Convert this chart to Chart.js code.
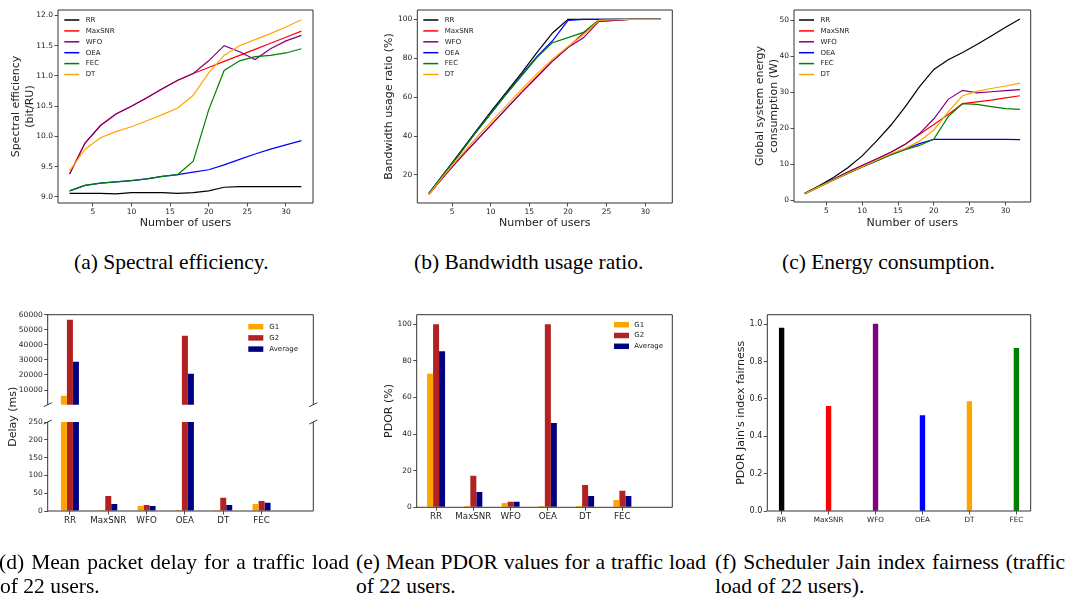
<!DOCTYPE html>
<html>
<head>
<meta charset="utf-8">
<script src="https://cdn.jsdelivr.net/npm/chart.js@4.4.1/dist/chart.umd.min.js"></script>
<style>
    body { margin: 0; background: #fff; width: 1066px; height: 600px; overflow: hidden; position: relative; }
    canvas { position: absolute; }
    .cap { position: absolute; font-family: 'Liberation Serif', 'Times New Roman', serif; font-size: 21.5px; line-height: 24px; color: #000; white-space: nowrap; }
    .just { width: 350px; text-align: justify; text-align-last: justify; }
</style>
</head>
<body>
<canvas id="seChart" width="330" height="240" style="left:0;top:0"></canvas>
<canvas id="bwChart" width="330" height="240" style="left:360px;top:0"></canvas>
<canvas id="enChart" width="340" height="240" style="left:710px;top:0"></canvas>
<canvas id="delayHighChart" width="330" height="160" style="left:0;top:300px"></canvas>
<canvas id="delayLowChart" width="330" height="128" style="left:0;top:412px"></canvas>
<canvas id="pdorChart" width="330" height="240" style="left:360px;top:300px"></canvas>
<canvas id="jainChart" width="340" height="240" style="left:710px;top:300px"></canvas>

<div class="cap" style="left:74px;top:250px">(a) Spectral efficiency.</div>
<div class="cap" style="left:414px;top:250px">(b) Bandwidth usage ratio.</div>
<div class="cap" style="left:782px;top:250px">(c) Energy consumption.</div>
<div class="cap just" style="left:-1px;top:550px">(d) Mean packet delay for a traffic load</div>
<div class="cap" style="left:0;top:574px">of 22 users.</div>
<div class="cap just" style="left:356px;top:550px">(e) Mean PDOR values for a traffic load</div>
<div class="cap" style="left:356px;top:574px">of 22 users.</div>
<div class="cap just" style="left:715px;top:550px">(f) Scheduler Jain index fairness (traffic</div>
<div class="cap" style="left:715px;top:574px">load of 22 users).</div>

<script>
// Line charts data
const users = [2, 4, 6, 8, 10, 12, 14, 16, 18, 20, 22, 24, 26, 28, 30, 32];
const userTicks = [5, 10, 15, 20, 25, 30];
const lineNames = ['RR', 'MaxSNR', 'WFO', 'OEA', 'FEC', 'DT'];
const lineColors = ['#000000', '#ff0000', '#800080', '#0000ff', '#008000', '#ffa500'];

// (a) spectral efficiency (bit/RU)
const seRR = [9.06, 9.06, 9.06, 9.05, 9.07, 9.07, 9.07, 9.06, 9.07, 9.10, 9.16, 9.17, 9.17, 9.17, 9.17, 9.17];
const seMaxSNR = [9.38, 9.89, 10.18, 10.37, 10.50, 10.64, 10.79, 10.93, 11.04, 11.14, 11.24, 11.34, 11.44, 11.54, 11.64, 11.74];
const seWFO = [9.38, 9.89, 10.18, 10.37, 10.50, 10.64, 10.79, 10.93, 11.04, 11.25, 11.50, 11.40, 11.27, 11.45, 11.58, 11.67];
const seOEA = [9.10, 9.19, 9.23, 9.25, 9.27, 9.30, 9.34, 9.37, 9.41, 9.45, 9.53, 9.62, 9.71, 9.79, 9.86, 9.93];
const seFEC = [9.10, 9.19, 9.23, 9.25, 9.27, 9.30, 9.34, 9.37, 9.59, 10.44, 11.09, 11.25, 11.32, 11.34, 11.38, 11.45];
const seDT = [9.43, 9.79, 9.98, 10.08, 10.16, 10.26, 10.36, 10.47, 10.68, 11.05, 11.34, 11.50, 11.60, 11.70, 11.81, 11.93];
const seTicks = [9.0, 9.5, 10.0, 10.5, 11.0, 11.5, 12.0];

// (b) bandwidth usage ratio (%)
const bwRR = [10.5, 21, 31.5, 42, 52.5, 62.5, 72.5, 83, 93, 100, 100, 100, 100, 100, 100, 100];
const bwMaxSNR = [10, 19.5, 28.5, 37, 45.5, 54, 62.5, 70.5, 78.5, 85.5, 93, 99, 99.5, 100, 100, 100];
const bwWFO = [10, 19.5, 28.5, 37, 45.5, 54, 62.5, 70.5, 78.5, 85.5, 90.5, 99, 99.5, 100, 100, 100];
const bwOEA = [10.5, 21, 31, 41.5, 51.5, 61.5, 71.5, 81, 89, 99.5, 100, 100, 100, 100, 100, 100];
const bwFEC = [10.5, 21, 31, 41.5, 51.5, 61.5, 71, 80.5, 88, 90.6, 93.3, 99.7, 100, 100, 100, 100];
const bwDT = [10, 20, 29.5, 38.5, 47, 55.5, 64, 72, 79.5, 86, 92, 99.5, 99.8, 100, 100, 100];
const bwTicks = [20, 40, 60, 80, 100];

// (c) global system energy consumption (W)
const enRR = [1.9, 4.0, 6.3, 9.0, 12.3, 16.4, 20.8, 25.9, 31.5, 36.3, 39.0, 41.0, 43.2, 45.6, 48.0, 50.3];
const enMaxSNR = [1.8, 3.8, 5.8, 7.8, 9.6, 11.4, 13.3, 15.5, 18.3, 21.0, 23.8, 26.8, 27.3, 27.8, 28.4, 29.0];
const enWFO = [1.8, 3.8, 5.8, 7.8, 9.6, 11.4, 13.3, 15.5, 18.5, 22.6, 28.0, 30.5, 29.8, 30.1, 30.4, 30.7];
const enOEA = [1.8, 3.7, 5.6, 7.4, 9.2, 10.9, 12.6, 14.2, 15.7, 16.9, 16.9, 16.9, 16.9, 16.9, 16.9, 16.8];
const enFEC = [1.8, 3.7, 5.6, 7.4, 9.2, 10.9, 12.6, 14.0, 15.2, 17.0, 23.2, 26.8, 26.6, 26.0, 25.4, 25.2];
const enDT = [1.8, 3.7, 5.6, 7.5, 9.3, 11.1, 12.9, 14.4, 16.4, 19.5, 24.5, 29.0, 30.2, 31.0, 31.7, 32.5];
const enTicks = [0, 10, 20, 30, 40, 50];

// Bar charts data
const schedulers = ['RR', 'MaxSNR', 'WFO', 'OEA', 'DT', 'FEC'];
const groupNames = ['G1', 'G2', 'Average'];
const groupColors = ['#ffa500', '#b22222', '#000080'];

// (d) mean packet delay (ms)
const delayG1 = [6200, 3, 14, 3, 3, 20];
const delayG2 = [56700, 42, 17, 46000, 37, 28];
const delayAvg = [28800, 20, 14, 20800, 17, 23];
const delayTicksHigh = [10000, 20000, 30000, 40000, 50000, 60000];
const delayTicksLow = [0, 50, 100, 150, 200, 250];

// (e) PDOR (%)
const pdorG1 = [73, 0.7, 2.4, 0.7, 0.7, 4];
const pdorG2 = [100, 17.2, 3, 100, 12.2, 9];
const pdorAvg = [85.3, 8.3, 3, 46, 6.2, 6.2];
const pdorTicks = [0, 20, 40, 60, 80, 100];

// (f) Jain fairness
const jain = [0.978, 0.56, 1.0, 0.51, 0.585, 0.87];
const jainColors = ['#000000', '#ff0000', '#800080', '#0000ff', '#ffa500', '#008000'];
const jainTicks = [0, 0.2, 0.4, 0.6, 0.8, 1.0];

Chart.defaults.font.family = 'DejaVu Sans';
Chart.defaults.color = '#222';
Chart.defaults.animation = false;
Chart.defaults.responsive = false;
Chart.defaults.plugins.legend.display = false;
Chart.defaults.plugins.tooltip.enabled = false;

const tickGrid = { display: true, drawOnChartArea: false, drawTicks: true, tickLength: 3.5, tickColor: '#222', tickWidth: 0.8, offset: false };

function fixedTicks(values) {
    return scale => { scale.ticks = values.map(v => ({ value: v })); };
}

// Box around the plot area (with optional axis-break marks)
const frame = {
    id: 'frame',
    afterDatasetsDraw(chart, args, opts) {
        const { ctx, chartArea: a } = chart;
        const sides = opts.sides || 'tlrb';
        ctx.save();
        ctx.lineWidth = 1;
        ctx.strokeStyle = '#333';
        ctx.beginPath();
        if (sides.includes('t')) { ctx.moveTo(a.left, a.top); ctx.lineTo(a.right, a.top); }
        if (sides.includes('b')) { ctx.moveTo(a.left, a.bottom); ctx.lineTo(a.right, a.bottom); }
        if (sides.includes('l')) { ctx.moveTo(a.left, a.top); ctx.lineTo(a.left, a.bottom); }
        if (sides.includes('r')) { ctx.moveTo(a.right, a.top); ctx.lineTo(a.right, a.bottom); }
        if (opts.breaks) {
            const y = opts.breaks === 'top' ? a.top : a.bottom;
            [a.left, a.right].forEach(x => { ctx.moveTo(x - 4, y + 2); ctx.lineTo(x + 4, y - 2); });
        }
        ctx.stroke();
        ctx.restore();
    }
};

// Legend drawn inside the plot area
const sampleLegend = {
    id: 'sampleLegend',
    afterDraw(chart, args, o) {
        if (o.x === undefined) return;
        const ctx = chart.ctx;
        ctx.save();
        ctx.font = o.size + 'px "DejaVu Sans"';
        ctx.textBaseline = 'middle';
        chart.data.datasets.forEach((ds, i) => {
            const y = o.y + i * o.dy;
            if (o.kind === 'line') {
                ctx.strokeStyle = ds.borderColor;
                ctx.lineWidth = 1.5;
                ctx.beginPath();
                ctx.moveTo(o.x, y);
                ctx.lineTo(o.x + o.w, y);
                ctx.stroke();
            } else {
                ctx.fillStyle = ds.backgroundColor;
                ctx.fillRect(o.x, y - o.h / 2, o.w, o.h);
            }
            ctx.fillStyle = '#222';
            ctx.fillText(ds.label, o.textX, y);
        });
        ctx.restore();
    }
};

// Rotated title shared by the two delay panels
const sideTitle = {
    id: 'sideTitle',
    afterDraw(chart, args, o) {
        if (!o.text) return;
        const ctx = chart.ctx;
        ctx.save();
        ctx.translate(o.x, o.y);
        ctx.rotate(-Math.PI / 2);
        ctx.font = o.size + 'px "DejaVu Sans"';
        ctx.fillStyle = '#222';
        ctx.textAlign = 'center';
        ctx.textBaseline = 'middle';
        ctx.fillText(o.text, 0, 0);
        ctx.restore();
    }
};

function makeLineChart(id, seriesList, cfg) {
    return new Chart(document.getElementById(id), {
        type: 'line',
        data: {
            datasets: seriesList.map((s, i) => ({
                label: lineNames[i],
                data: users.map((u, k) => ({ x: u, y: s[k] })),
                borderColor: lineColors[i],
                backgroundColor: lineColors[i],
                borderWidth: 1.2,
                pointRadius: 0,
                tension: 0,
                fill: false,
                order: seriesList.length - i   // later series drawn on top
            }))
        },
        options: {
            layout: { padding: cfg.pad },
            scales: {
                x: {
                    type: 'linear', min: 0.5, max: 33.5,
                    afterBuildTicks: fixedTicks(userTicks),
                    afterFit: s => { s.height = cfg.xH; },
                    grid: tickGrid,
                    border: { display: false },
                    ticks: { font: { size: 7.5 }, padding: 1, maxRotation: 0, autoSkip: false, callback: v => v },
                    title: { display: true, text: 'Number of users', font: { size: 11 }, padding: { top: 0, bottom: 10.7 } }
                },
                y: {
                    min: cfg.yMin, max: cfg.yMax,
                    afterBuildTicks: fixedTicks(cfg.yTicks),
                    afterFit: s => { s.width = cfg.yW; },
                    grid: tickGrid,
                    border: { display: false },
                    ticks: { font: { size: 7.5 }, padding: 1.5, autoSkip: false, callback: cfg.yFmt },
                    title: { display: true, text: cfg.yTitle, font: { size: 11, lineHeight: 1.25 }, padding: { top: cfg.yTitlePad, bottom: 0 } }
                }
            },
            plugins: {
                frame: { sides: 'tlrb' },
                sampleLegend: { kind: 'line', x: cfg.legX, textX: cfg.legX + 21.4, y: 20, dy: 10.9, w: 15, size: 7 }
            }
        },
        plugins: [frame, sampleLegend]
    });
}

function makeBarChart(id, datasets, cfg) {
    return new Chart(document.getElementById(id), {
        type: 'bar',
        data: { datasets: datasets },
        options: {
            clip: 0,
            layout: { padding: cfg.pad },
            scales: {
                x: {
                    type: 'linear', offset: false, min: cfg.xMin, max: cfg.xMax, display: cfg.showX,
                    afterBuildTicks: fixedTicks(schedulers.map((_, k) => k)),
                    afterFit: s => { s.height = cfg.xH; },
                    grid: tickGrid,
                    border: { display: false },
                    ticks: { font: { size: cfg.xFont }, padding: 1, maxRotation: 0, autoSkip: false, callback: v => schedulers[v] }
                },
                y: {
                    min: cfg.yMin, max: cfg.yMax,
                    afterBuildTicks: fixedTicks(cfg.yTicks),
                    afterFit: s => { s.width = cfg.yW; },
                    grid: tickGrid,
                    border: { display: false },
                    ticks: { font: { size: cfg.yFont || 7.5 }, padding: 1.5, autoSkip: false, callback: cfg.yFmt },
                    title: cfg.yTitle
                        ? { display: true, text: cfg.yTitle, font: { size: 11 }, padding: { top: cfg.yTitlePad, bottom: 0 } }
                        : { display: false }
                }
            },
            plugins: {
                frame: { sides: cfg.sides, breaks: cfg.breaks },
                sampleLegend: cfg.legend || {},
                sideTitle: cfg.sideTitle || {}
            }
        },
        plugins: [frame, sampleLegend, sideTitle]
    });
}

function groupedSets(values) {
    return values.map((arr, i) => ({
        label: groupNames[i],
        data: arr.map((v, k) => ({ x: k, y: v })),
        backgroundColor: groupColors[i],
        barThickness: 6,
        borderWidth: 0,
        inflateAmount: 0,
        clip: 0
    }));
}

// (a)
makeLineChart('seChart', [seRR, seMaxSNR, seWFO, seOEA, seFEC, seDT], {
    pad: { top: 10, right: 17, left: 0, bottom: 0 }, xH: 37, yW: 58,
    yMin: 8.9, yMax: 12.09, yTicks: seTicks, yFmt: v => v.toFixed(1),
    yTitle: ['Spectral efficiency', '(bit/RU)'], yTitlePad: 9.3, legX: 64.3
});

// (b)
makeLineChart('bwChart', [bwRR, bwMaxSNR, bwWFO, bwOEA, bwFEC, bwDT], {
    pad: { top: 10, right: 17.7, left: 0, bottom: 0 }, xH: 37, yW: 57.3,
    yMin: 5.6, yMax: 104.8, yTicks: bwTicks, yFmt: v => v,
    yTitle: 'Bandwidth usage ratio (%)', yTitlePad: 22.7, legX: 63.3
});

// (c)
makeLineChart('enChart', [enRR, enMaxSNR, enWFO, enOEA, enFEC, enDT], {
    pad: { top: 10, right: 19.3, left: 0, bottom: 0 }, xH: 38, yW: 84,
    yMin: -0.5, yMax: 52.8, yTicks: enTicks, yFmt: v => v,
    yTitle: ['Global system energy', 'consumption (W)'], yTitlePad: 43.1, legX: 89
});

// (d) upper part of the broken axis
makeBarChart('delayHighChart', groupedSets([delayG1, delayG2, delayAvg]), {
    pad: { top: 14.7, right: 16.7, left: 0, bottom: 55.3 }, showX: false, xH: 0, yW: 47.7,
    xMin: -0.58, xMax: 6.35, xFont: 8.7,
    yMin: 250, yMax: 60000, yTicks: delayTicksHigh, yFmt: v => String(v),
    sides: 'tlr', breaks: 'bottom',
    legend: { kind: 'box', x: 248.3, textX: 269.3, y: 26.7, dy: 11.2, w: 15, h: 5.5, size: 7 },
    sideTitle: { text: 'Delay (ms)', x: 13.3, y: 116.7, size: 11 }
});

// (d) lower part of the broken axis
makeBarChart('delayLowChart', groupedSets([delayG1, delayG2, delayAvg]), {
    pad: { top: 10, right: 16.7, left: 0, bottom: 0 }, showX: true, xH: 29, yW: 47.7,
    xMin: -0.58, xMax: 6.35, xFont: 8.7,
    yMin: 0, yMax: 250, yTicks: delayTicksLow, yFmt: v => String(v),
    sides: 'lrb', breaks: 'top'
});

// (e)
makeBarChart('pdorChart', groupedSets([pdorG1, pdorG2, pdorAvg]), {
    pad: { top: 14.7, right: 17.7, left: 0, bottom: 0 }, showX: true, xH: 32.7, yW: 56.7,
    xMin: -0.52, xMax: 6.34, xFont: 8.7,
    yMin: 0, yMax: 105.2, yTicks: pdorTicks, yFmt: v => String(v),
    yTitle: 'PDOR (%)', yTitlePad: 22.7, sides: 'tlrb',
    legend: { kind: 'box', x: 254, textX: 274.3, y: 24.7, dy: 10.8, w: 15, h: 5.5, size: 7 }
});

// (f)
makeBarChart('jainChart', [{
    label: 'Jain',
    data: jain.map((v, k) => ({ x: k, y: v })),
    backgroundColor: jainColors,
    barThickness: 4.7,
    borderWidth: 0
}], {
    pad: { top: 14.7, right: 19.3, left: 0, bottom: 0 }, showX: true, xH: 29, yW: 57.3,
    xMin: -0.305, xMax: 5.305, xFont: 7.2, yFont: 8,
    yMin: 0, yMax: 1.05, yTicks: jainTicks, yFmt: v => v.toFixed(1),
    yTitle: "PDOR Jain's index fairness", yTitlePad: 24.4, sides: 'tlrb'
});
</script>
</body>
</html>
